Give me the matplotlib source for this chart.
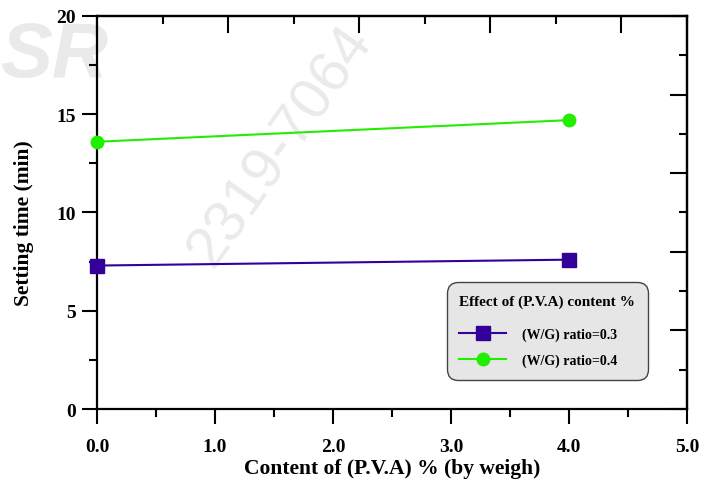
import matplotlib.pyplot as plt
from matplotlib.ticker import MultipleLocator, NullFormatter

plt.rcParams["font.family"] = ["Liberation Serif", "DejaVu Serif"]
plt.rcParams["font.weight"] = "bold"
plt.rcParams["axes.labelweight"] = "bold"

# data
pva = [0.0, 4.0]
wg03 = [7.3, 7.6]
wg04 = [13.6, 14.7]
labels = ["(W/G) ratio=0.3", "(W/G) ratio=0.4"]
colors = ["#330099", "#22ee00"]

fig = plt.figure(figsize=(7.12, 4.81), dpi=100)
ax = fig.add_axes([0.1362, 0.1476, 0.8287, 0.8171])
ax.set_zorder(2)
ax.patch.set_alpha(0)

# faint watermark of the source journal
wm = "#eaeaea"
fig.text(0.0, 0.84, "SR", fontsize=56, color=wm, style="italic",
         fontweight="bold", family="Liberation Sans", zorder=-1)
fig.text(0.25, 0.45, "2319-7064", fontsize=42, color=wm, rotation=55,
         fontweight="normal", family="Liberation Sans", zorder=-1)

ax.plot(pva, wg03, "-s", color=colors[0], lw=1.5, ms=10, label=labels[0],
        clip_on=False, zorder=5)
ax.plot(pva, wg04, "-o", color=colors[1], lw=1.5, ms=9, label=labels[1],
        clip_on=False, zorder=5)

ax.set_xlim(0, 5)
ax.set_ylim(0, 20)
ax.xaxis.set_major_locator(MultipleLocator(1))
ax.xaxis.set_minor_locator(MultipleLocator(0.5))
ax.yaxis.set_major_locator(MultipleLocator(5))
ax.yaxis.set_minor_locator(MultipleLocator(2.5))
ax.xaxis.set_major_formatter(lambda v, p: f"{v:.1f}")
ax.yaxis.set_major_formatter(lambda v, p: f"{v:.0f}")
ax.tick_params(which="major", direction="out", length=11, width=1.5,
               labelsize=14, pad=10)
ax.tick_params(axis="y", which="major", pad=4)
ax.tick_params(which="minor", direction="out", length=6, width=1.5)
for s in ax.spines.values():
    s.set_linewidth(1.6)

# top and right axes carry their own tick spacing
top = ax.secondary_xaxis("top", functions=(lambda x: x * 0.9, lambda x: x / 0.9))
top.xaxis.set_major_locator(MultipleLocator(1))
top.xaxis.set_minor_locator(MultipleLocator(0.5))
top.xaxis.set_major_formatter(NullFormatter())
top.tick_params(which="major", direction="in", length=12, width=1.5)
top.tick_params(which="minor", direction="in", length=6, width=1.5)
top.spines["top"].set_linewidth(1.6)

right = ax.secondary_yaxis("right", functions=(lambda y: y / 4, lambda y: y * 4))
right.yaxis.set_major_locator(MultipleLocator(1))
right.yaxis.set_minor_locator(MultipleLocator(0.5))
right.yaxis.set_major_formatter(NullFormatter())
right.tick_params(which="major", direction="in", length=12, width=1.5)
right.tick_params(which="minor", direction="in", length=6, width=1.5)
right.spines["right"].set_linewidth(1.6)

ax.set_xlabel("Content of (P.V.A) % (by weigh)", fontsize=15.5, labelpad=2)
ax.set_ylabel("Setting time (min)", fontsize=15.5)
ax.yaxis.set_label_coords(-0.106, 0.475)

leg = ax.legend(title="Effect of (P.V.A) content %", loc="lower right",
                bbox_to_anchor=(0.945, 0.057), fontsize=10, title_fontsize=11,
                facecolor="#e6e6e6", edgecolor="#444444", framealpha=1,
                fancybox=True, handlelength=3.4, handletextpad=1.1,
                borderpad=0.9, labelspacing=0.9, alignment="left")
leg.get_frame().set_linewidth(1.0)
leg.get_frame().set_boxstyle("round", pad=0.0, rounding_size=0.8)
leg._legend_box.sep = 14

fig.savefig("out.png", dpi=100)
